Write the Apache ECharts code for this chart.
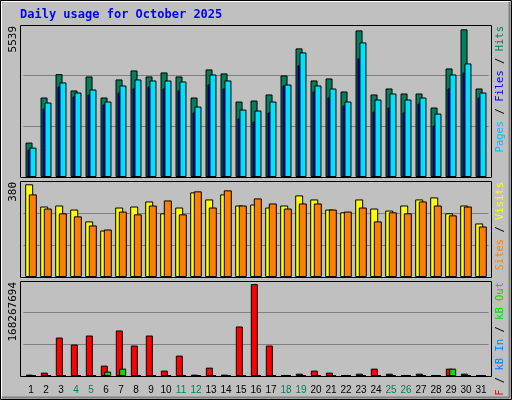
<!DOCTYPE html>
<html>
<head>
<meta charset="utf-8">
<script src="https://cdn.jsdelivr.net/npm/echarts@6/dist/echarts.min.js"></script>
<style>html,body{margin:0;padding:0;background:#c0c0c0}#chart{width:512px;height:400px}</style>
</head>
<body>
<div id="chart"></div>
<script>
// days of the month
var days = [];
for (var d = 1; d <= 31; d++) { days.push(String(d)); }
var weekendDays = ['4', '5', '11', '12', '18', '19', '25', '26'];

var hits = [1254, 2897, 3749, 3153, 3664, 2897, 3555, 3883, 3664, 3810, 3664, 2897, 3920, 3774, 2751, 2787,
    3007, 3700, 4687, 3518, 3591, 3116, 5343, 3007, 3226, 3043, 3043, 2532, 3956, 5380, 3226];
var files = [1071, 2714, 3445, 3079, 3189, 2751, 3335, 3554, 3517, 3517, 3481, 2568, 3736, 3517, 2458, 2422,
    2751, 3371, 4540, 3335, 3225, 2751, 4905, 2824, 3043, 2824, 2897, 2312, 3736, 4138, 3079];
var pages = [998, 2495, 3298, 2933, 3006, 2641, 3079, 3225, 3298, 3225, 3152, 2349, 3371, 3225, 2130, 2020,
    2349, 3335, 4065, 3116, 2897, 2604, 4320, 2385, 2531, 2349, 2677, 1874, 3225, 3809, 2897];
var visits = [367, 279, 283, 267, 220, 184, 275, 279, 299, 252, 275, 335, 307, 327, 283, 287,
    275, 283, 323, 307, 267, 256, 307, 271, 263, 283, 307, 315, 252, 283, 212];
var sites = [327, 271, 252, 240, 204, 188, 259, 248, 283, 303, 248, 339, 275, 343, 283, 311,
    291, 271, 291, 291, 267, 259, 275, 220, 256, 252, 299, 283, 244, 279, 200];
// kB values
var kbF = [2.4e6, 5.9e6, 68.1e6, 55.7e6, 71.7e6, 18.4e6, 80.6e6, 53.9e6, 71.7e6, 9.5e6, 36.1e6, 2.4e6, 14.8e6, 2.4e6, 87.7e6, 162.9e6,
    53.9e6, 1.8e6, 4.1e6, 9.5e6, 5.9e6, 1.8e6, 4.1e6, 13.0e6, 4.1e6, 1.8e6, 4.1e6, 1.8e6, 13.0e6, 4.1e6, 1.8e6];
var kbIn = [0.6e6, 0.6e6, 0.7e6, 0.7e6, 0.7e6, 0.6e6, 0.7e6, 0.7e6, 0.7e6, 0.6e6, 0.6e6, 0.5e6, 0.6e6, 0.6e6, 0.6e6, 0.6e6,
    0.6e6, 0.6e6, 0.7e6, 0.6e6, 0.6e6, 0.6e6, 0.7e6, 0.6e6, 0.6e6, 0.6e6, 0.6e6, 0.5e6, 0.6e6, 0.7e6, 0.6e6];
var kbOut = [1.2e6, 1.2e6, 1.3e6, 1.2e6, 1.2e6, 7.7e6, 13.0e6, 1.2e6, 1.2e6, 1.2e6, 1.2e6, 1.1e6, 1.2e6, 1.2e6, 1.1e6, 1.1e6,
    1.2e6, 1.2e6, 1.3e6, 1.2e6, 1.2e6, 1.1e6, 1.3e6, 1.2e6, 1.2e6, 1.2e6, 1.2e6, 1.1e6, 13.0e6, 1.3e6, 1.2e6];

var maxHits = 5539;
var maxVisits = 380;
var maxKb = 168267694;

var chart = echarts.init(document.getElementById('chart'));

var panels = [
    { top: 25, height: 152, max: maxHits },
    { top: 181, height: 96, max: maxVisits },
    { top: 281, height: 95, max: maxKb }
];

function barSeries(idx, name, data, color, width, gap) {
    return {
        name: name, type: 'bar', xAxisIndex: idx, yAxisIndex: idx, data: data,
        barWidth: width, barGap: gap, animation: false,
        itemStyle: { color: color, borderColor: '#000', borderWidth: 1 }
    };
}

var frames = panels.map(function (p) {
    return {
        type: 'rect', z: 100, silent: true,
        shape: { x: 20.5, y: p.top + 0.5, width: 471, height: p.height },
        style: { fill: null, stroke: '#000', lineWidth: 1 }
    };
});

var mono = 'DejaVu Sans Mono';

function sideText(x, y, rich, text, size) {
    return {
        type: 'text', x: x, y: y, rotation: Math.PI / 2, z: 100,
        style: { text: text, rich: rich, align: 'right', verticalAlign: 'middle', font: size + 'px "' + mono + '"', fill: '#000' }
    };
}

var option = {
    backgroundColor: '#c0c0c0',
    textStyle: { fontFamily: mono },
    grid: panels.map(function (p) {
        return { left: 23.5, width: 465, top: p.top, height: p.height };
    }),
    xAxis: panels.map(function (p, i) {
        return {
            type: 'category', gridIndex: i, data: days,
            axisLine: { show: false }, axisTick: { show: false },
            axisLabel: i === 2 ? {
                show: true, margin: 9, fontSize: 10, fontFamily: 'Liberation Sans', interval: 0,
                color: function (v) { return weekendDays.indexOf(v) >= 0 ? '#00805c' : '#000'; }
            } : { show: false }
        };
    }),
    yAxis: panels.map(function (p, i) {
        return {
            type: 'value', gridIndex: i, min: 0, max: p.max, interval: p.max / 3,
            axisLabel: { show: false }, axisLine: { show: false }, axisTick: { show: false },
            splitLine: { lineStyle: { color: '#808080', width: 1 } }
        };
    }),
    series: [
        barSeries(0, 'Hits', hits, '#00805c', 7, '-72%'),
        barSeries(0, 'Pages', pages, '#0000ff', 7, '-72%'),
        barSeries(0, 'Files', files, '#00e0ff', 7, '-72%'),
        barSeries(1, 'Visits', visits, '#ffff00', 8, '-55%'),
        barSeries(1, 'Sites', sites, '#ff8000', 8, '-55%'),
        barSeries(2, 'kB F', kbF, '#ff0000', 7, '-76%'),
        barSeries(2, 'kB In', kbIn, '#0080ff', 7, '-76%'),
        barSeries(2, 'kB Out', kbOut, '#00e000', 7, '-76%')
    ],
    graphic: frames.concat([
        // outer 3D border
        { type: 'rect', shape: { x: 0.5, y: 0.5, width: 511, height: 399 }, style: { fill: null, stroke: '#000' }, z: 100 },
        { type: 'polyline', shape: { points: [[1.5, 398], [1.5, 1.5], [510, 1.5]] }, style: { stroke: '#fff', fill: null }, z: 100 },
        { type: 'polyline', shape: { points: [[2, 397.5], [509.5, 397.5], [509.5, 2]] }, style: { stroke: '#808080', fill: null, lineWidth: 2 }, z: 100 },
        {
            type: 'text', x: 20, y: 15, z: 100,
            style: { text: 'Daily usage for October 2025', font: 'bold 12px "' + mono + '"', fill: '#0000ff', verticalAlign: 'middle' }
        },
        sideText(13, 26, null, String(maxHits), 11),
        sideText(13, 182, null, String(maxVisits), 11),
        sideText(13, 282, null, String(maxKb), 11),
        sideText(500, 26, {
            p: { fill: '#00c0ff' }, s: { fill: '#000' }, f: { fill: '#0000ff' }, h: { fill: '#00805c' }
        }, '{p|Pages}{s| / }{f|Files}{s| / }{h|Hits}', 10.5),
        sideText(500, 182, {
            si: { fill: '#ff8000' }, s: { fill: '#000' }, v: { fill: '#ffff00' }
        }, '{si|Sites}{s| / }{v|Visits}', 10.5),
        sideText(500, 282, {
            o: { fill: '#00e000' }, s: { fill: '#000' }, i: { fill: '#0080ff' }, f: { fill: '#ff0000' }
        }, '{f|kB F}{s| / }{i|kB In}{s| / }{o|kB Out}', 10.5)
    ])
};

chart.setOption(option);
</script>
</body>
</html>
